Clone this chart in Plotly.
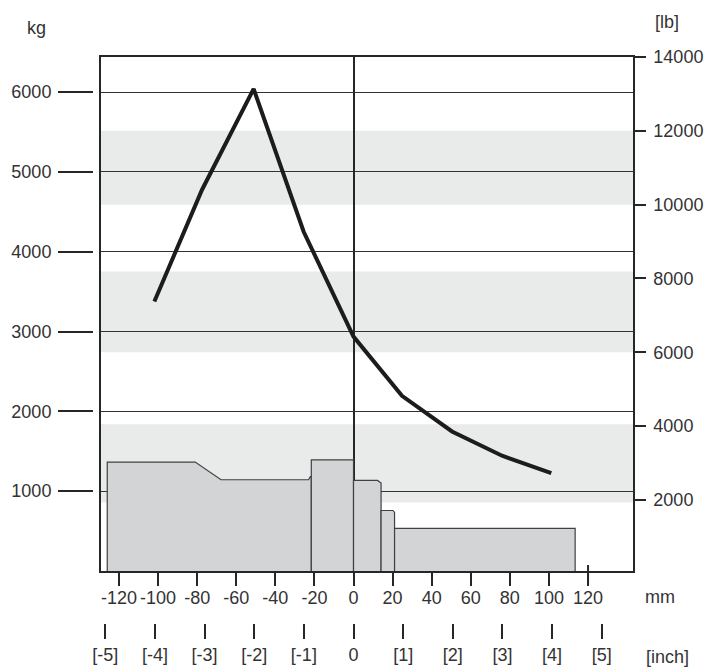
import plotly.graph_objects as go

# ---- data ----
mm_ticks = [-120, -100, -80, -60, -40, -20, 0, 20, 40, 60, 80, 100, 120]
mm_labels = ["-120", "-100", "-80", "-60", "-40", "-20", "0", "20", "40", "60", "80", "100", "120"]
inch_ticks = [-5, -4, -3, -2, -1, 0, 1, 2, 3, 4, 5]
inch_labels = ["[-5]", "[-4]", "[-3]", "[-2]", "[-1]", "0", "[1]", "[2]", "[3]", "[4]", "[5]"]
kg_ticks = [1000, 2000, 3000, 4000, 5000, 6000]
lb_ticks = [2000, 4000, 6000, 8000, 10000, 12000, 14000]

# load curve (mm, kg)
curve_mm = [-101.9, -77.5, -51.1, -25.5, 0.0, 24.8, 50.4, 76.0, 101.2]
curve_kg = [3377, 4777, 6040, 4250, 2937, 2195, 1748, 1444, 1227]

# profile blocks under the curve (mm, kg outlines)
blocks = [
    ([-126.0, -126.0, -81.0, -67.8, -23.0, -22.1, -21.6, -21.6],
     [0, 1365, 1365, 1143, 1143, 1184, 1184, 0]),
    ([-21.6, -21.6, 0.0, 0.0], [0, 1393, 1393, 0]),
    ([0.0, 0.0, 12.3, 14.1, 14.1], [0, 1134, 1134, 1101, 0]),
    ([14.1, 14.1, 20.2, 21.0, 21.0], [0, 758, 758, 733, 0]),
    ([21.0, 21.0, 113.4, 113.4], [0, 533, 533, 0]),
]

# light grey horizontal bands, in lb
bands_lb = [(1930, 4050), (6000, 8190), (10000, 12000)]

mm_range = [-129.2, 143.0]
kg_range = [0, 6440]
lb_range = [76, 14000]

# ---- layout helpers ----
W, H = 719, 669
L, R, T, B = 100.7, 632.7, 57.3, 623.0
PLOT_BOTTOM = 571.0
font = dict(family="Liberation Sans, Arial, sans-serif", size=18, color="#333333")
dark = "#262626"


def paper(x, y):
    return (x - L) / (R - L), (B - y) / (B - T)


fig = go.Figure()

for bx, by in blocks:
    fig.add_trace(go.Scatter(x=bx, y=by, mode="lines", fill="toself",
                             fillcolor="#d3d4d6",
                             line=dict(color="#404040", width=1.2),
                             hoverinfo="skip", showlegend=False))

fig.add_trace(go.Scatter(x=curve_mm, y=curve_kg, mode="lines",
                         line=dict(color="#1c1c1c", width=4),
                         showlegend=False))

# empty trace so the inch axis gets drawn
fig.add_trace(go.Scatter(x=inch_ticks, y=[None] * len(inch_ticks),
                         xaxis="x2", yaxis="y", mode="markers",
                         hoverinfo="skip", showlegend=False))

for lo, hi in bands_lb:
    fig.add_shape(type="rect", xref="x domain", yref="y2", x0=0, x1=1,
                  y0=lo, y1=hi, fillcolor="#e9eaea", line_width=0,
                  layer="below")

# the 120 mm tick runs up through the axis line
fig.add_shape(type="line", xref="x", yref="paper", x0=120, x1=120,
              ysizemode="pixel", yanchor=paper(0, PLOT_BOTTOM)[1],
              y0=-13, y1=6, line=dict(color=dark, width=2))

ydom0 = paper(0, PLOT_BOTTOM)[1]

fig.update_layout(
    width=W, height=H,
    margin=dict(l=L, r=W - R, t=T, b=H - B),
    template="none",
    paper_bgcolor="white", plot_bgcolor="white",
    font=font,
    showlegend=False,
    xaxis=dict(range=mm_range, tickvals=mm_ticks, ticktext=mm_labels,
               ticks="outside", ticklen=13, tickwidth=2, tickcolor=dark,
               showline=True, linecolor=dark, linewidth=2, mirror=True,
               showgrid=False, zeroline=True, zerolinecolor=dark,
               zerolinewidth=1.5, anchor="y", automargin=False,
               ticklabelstandoff=-4),
    xaxis2=dict(range=[v / 25.4 for v in mm_range], tickvals=inch_ticks,
                ticktext=inch_labels, overlaying="x", anchor="free",
                position=0, side="bottom", ticks="outside", ticklen=15,
                tickwidth=2, tickcolor=dark, showline=False,
                showgrid=False, zeroline=False, automargin=False,
                ticklabelstandoff=0),
    yaxis=dict(range=kg_range, domain=[ydom0, 1], tickvals=kg_ticks,
               ticks="outside", ticklen=35, tickwidth=2, tickcolor=dark,
               showline=False, showgrid=True, gridcolor="#333333",
               gridwidth=1.4, zeroline=False, anchor="free", position=0,
               shift=-8, automargin=False, ticklabelstandoff=3),
    yaxis2=dict(range=lb_range, tickvals=lb_ticks, tickformat="d",
                overlaying="y", side="right", anchor="x", ticks="outside",
                ticklen=11, tickwidth=1.5, tickcolor=dark, showline=True,
                linecolor=dark, linewidth=1.5, mirror=True,
                showgrid=False, zeroline=False, automargin=False,
                ticklabelstandoff=4),
)

for text, x, y in [("kg", 36, 28), ("[lb]", 667, 22),
                   ("mm", 660, 597), ("[inch]", 667, 657)]:
    px_, py_ = paper(x, y)
    fig.add_annotation(text=text, xref="paper", yref="paper", x=px_, y=py_,
                       xanchor="center", yanchor="middle", showarrow=False,
                       font=font)

# drop the page's default body margin so the figure sits at the top-left
fig.write_html("out.html", config={"displayModeBar": False},
               post_script="document.body.style.margin='0px';")
